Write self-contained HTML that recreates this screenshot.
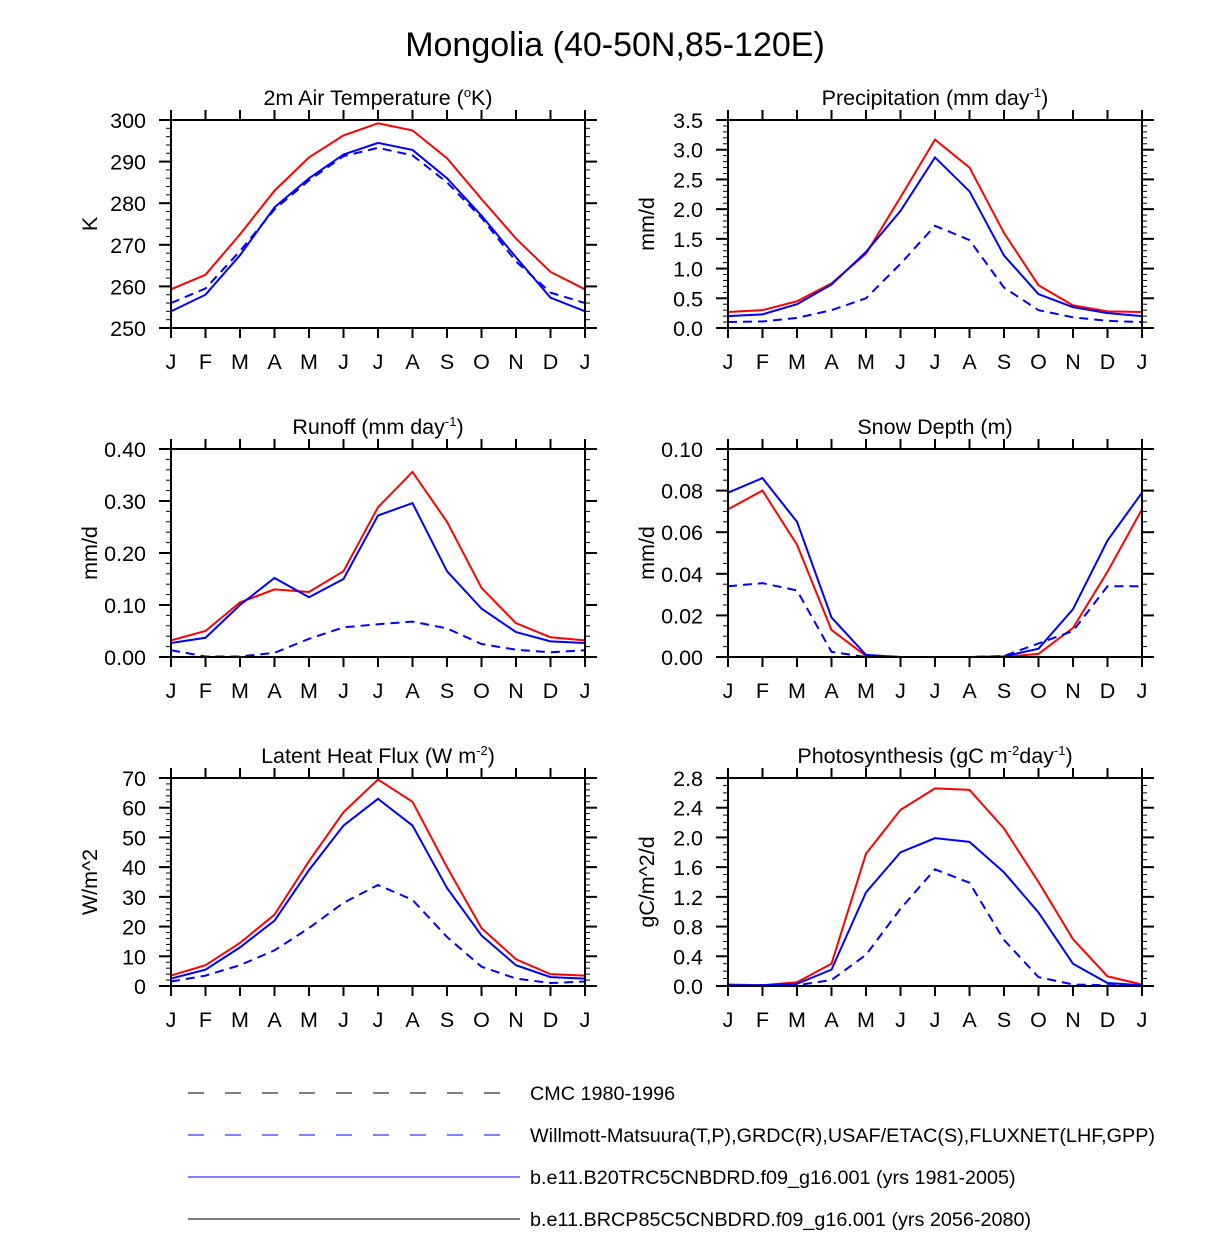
<!DOCTYPE html>
<html><head><meta charset="utf-8"><style>
body{margin:0;background:#fff}
svg{display:block;font-family:"Liberation Sans",Arial,sans-serif}
</style></head><body>
<svg id="chart" width="1224" height="1250" viewBox="0 0 1224 1250" xmlns="http://www.w3.org/2000/svg">
<text x="615" y="56" font-size="34" text-anchor="middle">Mongolia (40-50N,85-120E)</text>
<g>
<line x1="188" y1="1093" x2="520" y2="1093" stroke="#000" stroke-width="1" stroke-dasharray="16,21"/>
<text x="530" y="1100" font-size="19.8">CMC 1980-1996</text>
<line x1="188" y1="1135" x2="520" y2="1135" stroke="#00f" stroke-width="1" stroke-dasharray="16,21"/>
<text x="530" y="1142" font-size="19.8">Willmott-Matsuura(T,P),GRDC(R),USAF/ETAC(S),FLUXNET(LHF,GPP)</text>
<line x1="188" y1="1177" x2="520" y2="1177" stroke="#00f" stroke-width="1"/>
<text x="530" y="1184" font-size="19.8">b.e11.B20TRC5CNBDRD.f09_g16.001 (yrs 1981-2005)</text>
<line x1="188" y1="1219" x2="520" y2="1219" stroke="#000" stroke-width="1"/>
<text x="530" y="1226" font-size="19.8">b.e11.BRCP85C5CNBDRD.f09_g16.001 (yrs 2056-2080)</text>
</g>
</svg>
<script>
const months = ["J","F","M","A","M","J","J","A","S","O","N","D","J"];
const tempRed = [259.3,262.8,272.5,283,291,296.3,299.2,297.5,290.8,281,271.5,263.5,259.3];
const tempBlue = [254,258,267.5,279,286,291.7,294.5,292.8,286,277,267,257.3,254];
const tempObs = [256,259.5,268.5,278.5,285.5,291.3,293.3,291.5,285,276.5,266,258.5,256];
const precRed = [0.27,0.3,0.45,0.75,1.25,2.2,3.17,2.7,1.6,0.72,0.38,0.28,0.27];
const precBlue = [0.2,0.23,0.4,0.73,1.28,1.97,2.87,2.3,1.22,0.57,0.35,0.25,0.2];
const precObs = [0.1,0.11,0.17,0.3,0.5,1.08,1.72,1.48,0.68,0.3,0.18,0.12,0.1];
const runRed = [0.032,0.05,0.105,0.13,0.125,0.165,0.288,0.356,0.26,0.133,0.065,0.038,0.032];
const runBlue = [0.027,0.037,0.1,0.152,0.115,0.15,0.272,0.296,0.165,0.093,0.048,0.03,0.027];
const runObs = [0.013,0.001,0.001,0.008,0.035,0.057,0.063,0.068,0.055,0.025,0.014,0.009,0.013];
const snowRed = [0.071,0.08,0.054,0.013,0.0005,0,0,0,0,0.0015,0.014,0.041,0.071];
const snowBlue = [0.079,0.086,0.065,0.019,0.001,0,0,0,0.0003,0.004,0.023,0.056,0.079];
const snowObs = [0.034,0.0355,0.032,0.0025,0,0,0,0,0.0005,0.0065,0.0125,0.034,0.034];
const lhfRed = [3.5,7,14.5,24,42,58.5,69.5,62,40,19.5,9,4,3.5];
const lhfBlue = [2.5,5.5,13,22,39,54,63,54,33,17,7,3,2.5];
const lhfObs = [1.5,3.5,7,12,19.5,28,34,29,16.5,6.5,2.5,1,1.5];
const gppRed = [0.02,0.01,0.05,0.3,1.78,2.37,2.66,2.64,2.12,1.4,0.63,0.13,0.02];
const gppBlue = [0.01,0.01,0.03,0.22,1.26,1.8,1.99,1.94,1.53,0.99,0.3,0.04,0.01];
const gppObs = [0.01,0.01,0.01,0.08,0.42,1.04,1.57,1.39,0.62,0.12,0.02,0.01,0.01];
const tempTicks = [250,260,270,280,290,300];
const precTicks = ["0.0","0.5","1.0","1.5","2.0","2.5","3.0","3.5"];
const runTicks = ["0.00","0.10","0.20","0.30","0.40"];
const snowTicks = ["0.00","0.02","0.04","0.06","0.08","0.10"];
const lhfTicks = [0,10,20,30,40,50,60,70];
const gppTicks = ["0.0","0.4","0.8","1.2","1.6","2.0","2.4","2.8"];

const NS="http://www.w3.org/2000/svg";
const svg=document.getElementById('chart');
function mk(tag,attrs,parent){const e=document.createElementNS(NS,tag);for(const k in attrs)e.setAttribute(k,attrs[k]);(parent||svg).appendChild(e);return e;}
const SUP=(s)=>`<tspan font-size="13" dy="-8">${s}</tspan>`;
const panels=[
 {name:"temperature",title:'2m Air Temperature ('+SUP('o')+'<tspan dy="8">K)</tspan>',ylab:"K",x0:171,y0:120,ticks:tempTicks,min:250,max:300,minor:2,series:[tempRed,tempBlue,tempObs]},
 {name:"precipitation",title:'Precipitation (mm day'+SUP('-1')+'<tspan dy="8">)</tspan>',ylab:"mm/d",x0:728,y0:120,ticks:precTicks,min:0,max:3.5,minor:0.1,series:[precRed,precBlue,precObs]},
 {name:"runoff",title:'Runoff (mm day'+SUP('-1')+'<tspan dy="8">)</tspan>',ylab:"mm/d",x0:171,y0:449,ticks:runTicks,min:0,max:0.4,minor:0.02,series:[runRed,runBlue,runObs]},
 {name:"snow-depth",title:'Snow Depth (m)',ylab:"mm/d",x0:728,y0:449,ticks:snowTicks,min:0,max:0.1,minor:0.005,series:[snowRed,snowBlue,snowObs]},
 {name:"latent-heat",title:'Latent Heat Flux (W m'+SUP('-2')+'<tspan dy="8">)</tspan>',ylab:"W/m^2",x0:171,y0:778,ticks:lhfTicks,min:0,max:70,minor:2,series:[lhfRed,lhfBlue,lhfObs]},
 {name:"photosynthesis",title:'Photosynthesis (gC m'+SUP('-2')+'<tspan dy="8">day</tspan>'+SUP('-1')+'<tspan dy="8">)</tspan>',ylab:"gC/m^2/d",x0:728,y0:778,ticks:gppTicks,min:0,max:2.8,minor:0.1,series:[gppRed,gppBlue,gppObs]}
];
const W=414,H=208,FS=21.5;
panels.forEach(p=>{
 const g=mk('g',{});
 
 
 const xs=i=>p.x0+i*W/12;
 const ys=v=>p.y0+H-(v-p.min)/(p.max-p.min)*H;
 const t=mk('text',{x:p.x0+W/2,y:p.y0-15,'font-size':21.5,'text-anchor':'middle'},g);
 t.innerHTML=p.title;
 
 
 const yl=mk('text',{x:0,y:0,'font-size':FS,'text-anchor':'middle',transform:`translate(${p.x0-74},${p.y0+H/2}) rotate(-90)`},g);
 yl.textContent=p.ylab;
 
 
 for(let v=p.min;v<=p.max+1e-9;v+=p.minor){const y=ys(v);
  mk('line',{x1:p.x0-5,x2:p.x0,y1:y,y2:y,stroke:'#000','stroke-width':1},g);
  mk('line',{x1:p.x0+W,x2:p.x0+W+5,y1:y,y2:y,stroke:'#000','stroke-width':1},g);}
 p.ticks.forEach(tk=>{const y=ys(+tk);
  mk('line',{x1:p.x0-12,x2:p.x0,y1:y,y2:y,stroke:'#000','stroke-width':2},g);
  mk('line',{x1:p.x0+W,x2:p.x0+W+12,y1:y,y2:y,stroke:'#000','stroke-width':2},g);
  const l=mk('text',{x:p.x0-25,y:y+8,'font-size':FS,'text-anchor':'end'},g);l.textContent=tk;
  
  });
 months.forEach((m,i)=>{const x=xs(i);
  mk('line',{x1:x,x2:x,y1:p.y0-10,y2:p.y0,stroke:'#000','stroke-width':2},g);
  mk('line',{x1:x,x2:x,y1:p.y0+H,y2:p.y0+H+10,stroke:'#000','stroke-width':2},g);
  const l=mk('text',{x:x,y:p.y0+H+41,'font-size':FS,'text-anchor':'middle'},g);l.textContent=m;
  
  });
 const cols=['#f00','#00f','#00f'],names=['rcp85-line','historical-line','observed-line'];
 p.series.forEach((s,k)=>{
  const pl=mk('polyline',{points:s.map((v,i)=>xs(i)+','+ys(v)).join(' '),fill:'none',stroke:cols[k],'stroke-width':2,'stroke-dasharray':k==2?'9,6':'none'},g);
  
  });
 const fr=mk('rect',{x:p.x0,y:p.y0,width:W,height:H,fill:'none',stroke:'#000','stroke-width':2},g);
 
 
});
</script>
</body></html>
